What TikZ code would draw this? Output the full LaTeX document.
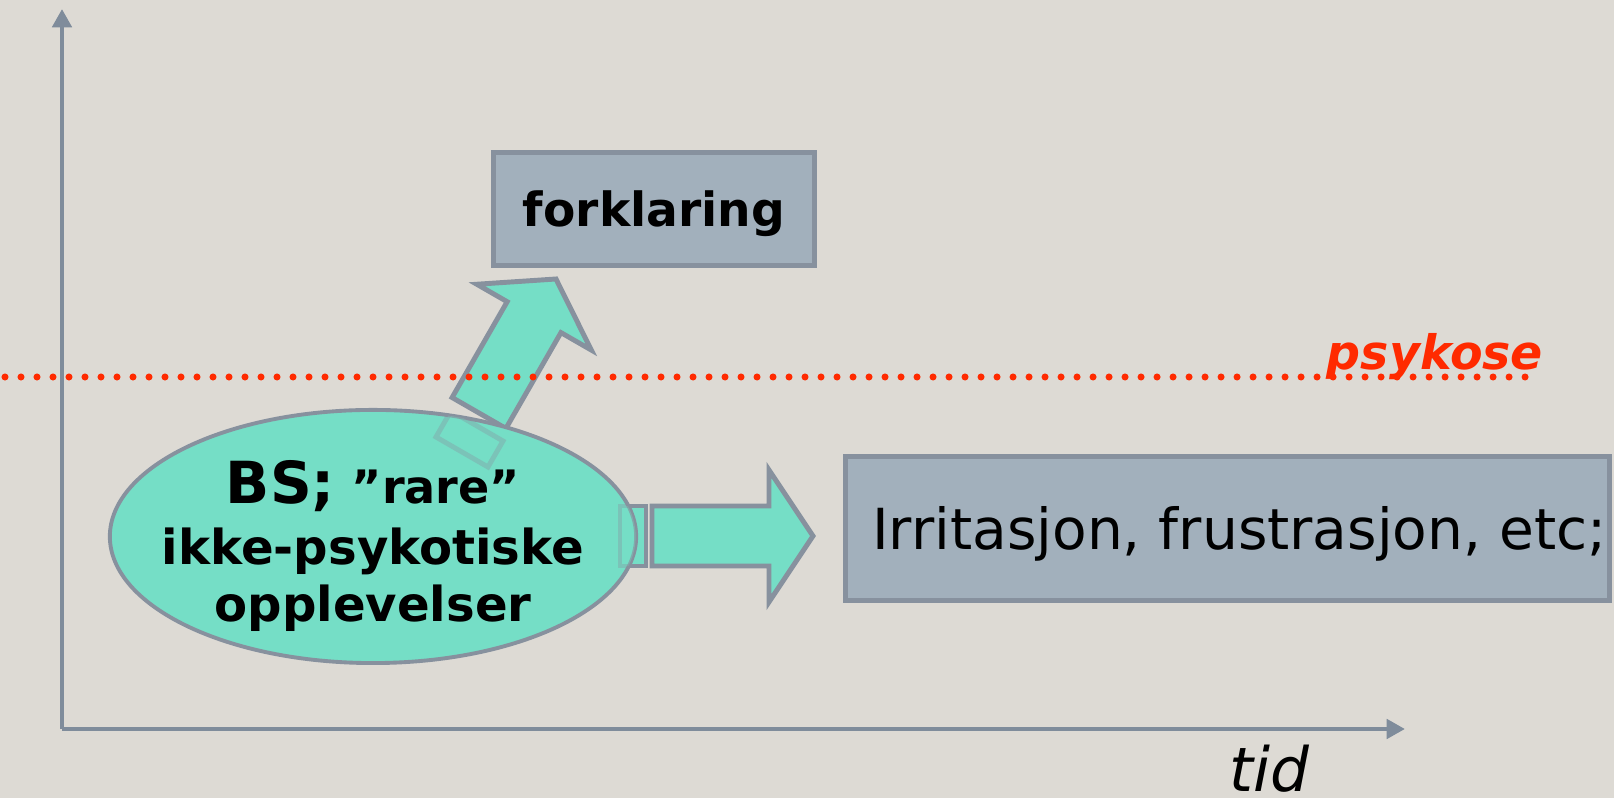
\documentclass[tikz,border=0pt]{standalone}
\usepackage{fontspec}
\setmainfont{DejaVu Sans}
\usetikzlibrary{arrows.meta,shapes.geometric,calc}

\definecolor{paper}{RGB}{221,218,212}
\definecolor{axisgray}{RGB}{127,140,155}
\definecolor{edgegray}{RGB}{135,145,158}
\definecolor{boxgray}{RGB}{162,176,188}
\definecolor{seagreen}{RGB}{117,222,198}
\definecolor{psyred}{RGB}{255,42,0}

% block arrow: tail, tip, half shaft, half head, head length
\newcommand{\blockarrow}[5]{%
  \coordinate (neck) at ($(#2)!#5!(#1)$);
  \draw[blockarrow] ($(#1)!#3!90:(#2)$) -- ($(neck)!#3!90:(#2)$)
    -- ($(neck)!#4!90:(#2)$) -- (#2) -- ($(neck)!#4!-90:(#2)$)
    -- ($(neck)!#3!-90:(#2)$) -- ($(#1)!#3!-90:(#2)$) -- cycle;
}
% loose piece behind the tail of a block arrow
\newcommand{\tailpiece}[3]{%
  \draw[blockarrow] ($(#1)!#3!90:(#2)$) -- ($(#2)!#3!-90:(#1)$)
    -- ($(#2)!#3!90:(#1)$) -- ($(#1)!#3!-90:(#2)$) -- cycle;
}

\begin{document}
\begin{tikzpicture}[x=0.01cm,y=-0.01cm,
  axis/.style={draw=axisgray,line width=1.4pt,-{Triangle[length=5.2pt,width=5.4pt]}},
  blockarrow/.style={draw=edgegray,fill=seagreen,line width=1.4pt},
  graybox/.style={draw=edgegray,fill=boxgray,line width=1.4pt,inner sep=0pt,text depth=0pt},
  bsnode/.style={ellipse,draw=edgegray,fill=seagreen,line width=1.1pt,
    inner sep=0pt,minimum width=5.26cm,minimum height=2.53cm},
  psyline/.style={draw=psyred,line width=2pt,line cap=round,dash pattern=on 0pt off 4.55pt}]

\fill[paper] (0,0) rectangle (1614,798);
\useasboundingbox (0,0) rectangle (1614,798);

% axes
\coordinate (origin) at (62,729);
\coordinate (ytop) at (62,9);
\coordinate (xend) at (1405,729);
\draw[axis] (origin) -- (ytop);
\draw[axis] (origin) -- (xend);

% arrows out of the ellipse
\coordinate (uptail) at (479,413);
\coordinate (uptip) at (556,279);
\coordinate (uppieceA) at (462,452);
\coordinate (uppieceB) at (477,426);
\blockarrow{uptail}{uptip}{0.31cm}{0.66cm}{0.44cm}

\coordinate (rtail) at (652,536);
\coordinate (rtip) at (813,536);
\coordinate (rpieceA) at (620,536);
\coordinate (rpieceB) at (646,536);
\blockarrow{rtail}{rtip}{0.30cm}{0.66cm}{0.44cm}
\tailpiece{rpieceA}{rpieceB}{0.30cm}

\node[bsnode] (bs) at (373,536.5) {};
\begin{scope}
\clip (bs.center) ellipse [x radius=2.625cm, y radius=1.26cm];
\begin{scope}[opacity=0.35]
\tailpiece{uppieceA}{uppieceB}{0.30cm}
\tailpiece{rpieceA}{rpieceB}{0.30cm}
\end{scope}
\end{scope}
\node[align=center,text depth=0pt,font=\bfseries\fontsize{13.7}{16.2}\selectfont] (bstext) at (373,541)
  {{\fontsize{16.5}{16.2}\selectfont BS;} {\fontsize{13.1}{16.2}\selectfont ”rare”}\\[1.2pt] ikke-psykotiske\\ opplevelser};

\node[graybox,minimum width=3.21cm,minimum height=1.13cm,
  font=\bfseries\fontsize{13.4}{16}\selectfont] (forkl) at (654,209) {forklaring};
\node[graybox,minimum width=7.64cm,minimum height=1.44cm,
  font=\fontsize{16.1}{18}\selectfont] (irr) at (1227.5,528.5) {\hspace*{6.8pt}Irritasjon, frustrasjon, etc;};

% psykose
\coordinate (psyL) at (5,377);
\coordinate (psyR) at (1526,377);
\draw[psyline] (psyL) -- (psyR);
\node[anchor=base,text=psyred,font=\bfseries\itshape\fontsize{13.5}{16}\selectfont] (psy) at (1435,370) {psykose};

\node[anchor=base,inner sep=0pt,text depth=0pt,font=\itshape\fontsize{17.4}{20}\selectfont] (tid) at (1269,792) {tid};
\end{tikzpicture}
\end{document}
